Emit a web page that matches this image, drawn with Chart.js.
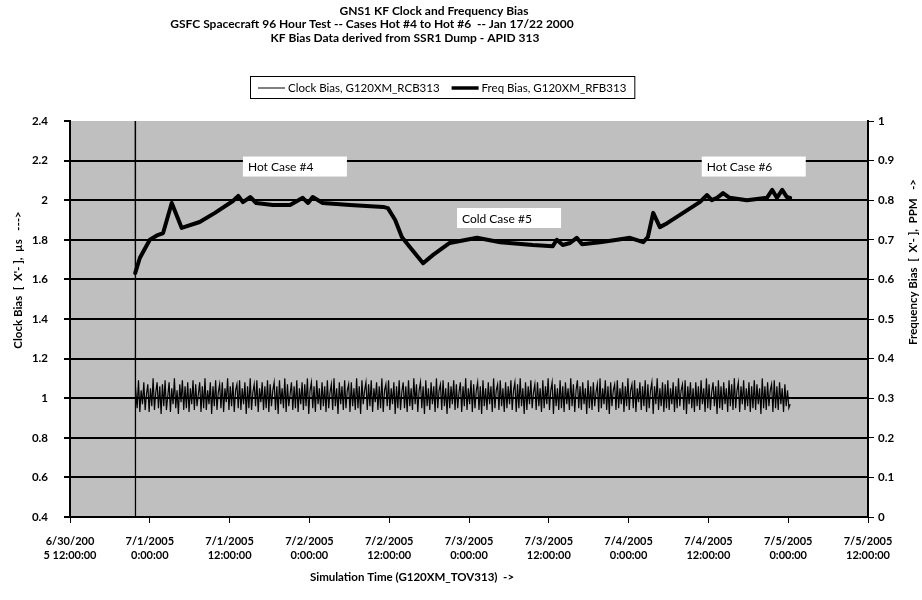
<!DOCTYPE html>
<html>
<head>
<meta charset="utf-8">
<title>GNS1 KF Clock and Frequency Bias</title>
<script src="https://cdn.jsdelivr.net/npm/chart.js@4.4.1/dist/chart.umd.min.js"></script>
<style>
	html, body { margin: 0; padding: 0; background: #fff; }
	#wrap { width: 922px; height: 600px; }
</style>
</head>
<body>
<div id="wrap"><canvas id="biasChart" width="922" height="600"></canvas></div>
<script>
"use strict";

// chart text
const titleLines = [
	"GNS1 KF Clock and Frequency Bias",
	"GSFC Spacecraft 96 Hour Test -- Cases Hot #4 to Hot #6  -- Jan 17/22 2000",
	"KF Bias Data derived from SSR1 Dump - APID 313",
];
const clockAxisTitle = "Clock Bias  [  X'- ],  µs   --->";
const freqAxisTitle = "Frequency Bias  [  X'- ],  PPM   ->";
const timeAxisTitle = "Simulation Time (G120XM_TOV313)  ->";

// x axis: hours after 6/30/2005 12:00, one label every 12 h
const xTickLabels = [
	["6/30/200", "5 12:00:00"],
	["7/1/2005", "0:00:00"],
	["7/1/2005", "12:00:00"],
	["7/2/2005", "0:00:00"],
	["7/2/2005", "12:00:00"],
	["7/3/2005", "0:00:00"],
	["7/3/2005", "12:00:00"],
	["7/4/2005", "0:00:00"],
	["7/4/2005", "12:00:00"],
	["7/5/2005", "0:00:00"],
	["7/5/2005", "12:00:00"],
];

// clock bias (us): initial jump, then samples every 0.2 h
const clockJumpTime = [9.8, 9.8];
const clockJumpBias = [2.6, 0.2];
const clockStart = 9.9;
const clockStep = 0.2;
const clockBias = [
	1.06, 0.95, 1.09, 0.93, 1.04, 0.97, 1.08, 0.94, 1.02, 1.07, 0.93, 1.05, 0.96, 1.10, 0.94, 1.03, 1.08, 0.95, 1.06, 0.92,
	1.07, 0.96, 1.09, 0.94, 1.01, 1.08, 0.93, 1.05, 0.97, 1.10, 0.95, 1.04, 0.92, 1.07, 0.98, 1.09, 0.94, 1.06, 0.95, 1.08,
	0.93, 1.05, 0.97, 1.09, 0.94, 1.07, 0.96, 1.02, 1.08, 0.93, 1.06, 0.95, 1.10, 0.94, 1.04, 0.97, 1.08, 0.92, 1.06, 0.96,
	1.09, 0.94, 1.03, 1.07, 0.95, 1.08, 0.93, 1.05, 0.98, 1.10, 0.94, 1.06, 0.96, 1.08, 0.93, 1.04, 1.07, 0.95, 1.09, 0.94,
	1.05, 0.97, 1.08, 0.92, 1.06, 0.95, 1.10, 0.94, 1.03, 1.07, 0.96, 1.09, 0.93, 1.05, 0.98, 1.08, 0.94, 1.06, 0.95, 1.09,
	0.93, 1.07, 0.96, 1.04, 1.08, 0.94, 1.06, 0.92, 1.09, 0.97, 1.05, 0.95, 1.10, 0.93, 1.07, 0.96, 1.02, 1.08, 0.94, 1.06,
	0.95, 1.09, 0.93, 1.05, 0.97, 1.08, 0.94, 1.07, 0.96, 1.10, 0.92, 1.04, 1.08, 0.95, 1.06, 0.93, 1.09, 0.97, 1.05, 0.94,
	1.08, 0.96, 1.06, 0.93, 1.09, 0.95, 1.03, 1.07, 0.94, 1.10, 0.96, 1.05, 0.92, 1.08, 0.97, 1.06, 0.94, 1.09, 0.95, 1.04,
	1.07, 0.93, 1.08, 0.96, 1.05, 0.94, 1.10, 0.95, 1.06, 0.92, 1.09, 0.97, 1.04, 1.08, 0.94, 1.07, 0.96, 1.09, 0.93, 1.05,
	0.98, 1.08, 0.94, 1.06, 0.95, 1.10, 0.93, 1.04, 1.07, 0.96, 1.09, 0.94, 1.05, 0.97, 1.08, 0.92, 1.06, 0.95, 1.09, 0.94,
	1.03, 1.08, 0.95, 1.06, 0.93, 1.09, 0.96, 1.05, 0.94, 1.10, 0.97, 1.07, 0.93, 1.04, 1.08, 0.95, 1.06, 0.92, 1.09, 0.96,
	1.05, 0.94, 1.08, 0.97, 1.06, 0.93, 1.10, 0.95, 1.04, 1.07, 0.94, 1.09, 0.96, 1.05, 0.92, 1.08, 0.95, 1.06, 0.97, 1.09,
	0.94, 1.07, 0.95, 1.03, 1.08, 0.93, 1.06, 0.96, 1.10, 0.94, 1.05, 0.97, 1.09, 0.93, 1.07, 0.95, 1.04, 1.08, 0.94, 1.06,
	0.92, 1.09, 0.96, 1.05, 0.94, 1.08, 0.97, 1.06, 0.93, 1.10, 0.95, 1.04, 1.07, 0.94, 1.09, 0.96, 1.05, 0.93, 1.08, 0.95,
	1.06, 0.97, 1.09, 0.94, 1.04, 1.08, 0.93, 1.07, 0.95, 1.10, 0.96, 1.05, 0.92, 1.08, 0.94, 1.06, 0.97, 1.09, 0.95, 1.03,
	1.07, 0.94, 1.08, 0.96, 1.05, 0.93, 1.09, 0.95, 1.06, 0.97, 1.10, 0.94, 1.04, 1.08, 0.92, 1.07, 0.96, 1.05, 0.94, 1.09,
	0.95, 1.06, 0.93, 1.08, 0.97, 1.05, 0.94, 1.10, 0.96, 1.07, 0.93, 1.04, 1.09, 0.95, 1.06, 0.94, 1.08, 0.97, 1.05, 0.92,
	1.09, 0.95, 1.06, 0.94, 1.08, 0.96, 1.03, 1.07, 0.93, 1.10, 0.95, 1.05, 0.97, 1.09, 0.94, 1.06, 0.92, 1.08, 0.96, 1.04,
	1.07, 0.94, 1.09, 0.95, 1.05, 0.97, 1.08, 0.93, 1.06, 0.96, 1.10, 0.94, 1.04, 1.07, 0.95, 1.09, 0.93, 1.05, 0.98, 1.08,
	0.94, 1.06, 0.96, 1.09, 0.93, 1.07, 0.95, 1.04, 1.08, 0.92, 1.06, 0.97, 1.10, 0.94, 1.05, 0.96, 1.08, 0.93, 1.07, 0.95,
	1.09, 0.94, 1.05, 0.97, 1.08, 0.93, 1.06, 0.95, 1.10, 0.96, 1.04, 1.07, 0.94, 1.09, 0.92, 1.06, 0.97, 1.08, 0.95, 1.05,
	0.93, 1.08, 0.96, 1.06, 0.94, 1.09, 0.97, 1.05, 0.93, 1.10, 0.95, 1.07, 0.94, 1.03, 1.08, 0.96, 1.06, 0.92, 1.09, 0.95,
	1.06, 0.94, 1.08, 0.97, 1.05, 0.93, 1.09, 0.96, 1.07, 0.94, 1.10, 0.95, 1.04, 1.08, 0.93, 1.06, 0.97, 1.09, 0.94, 1.05,
	0.96, 1.08, 0.93, 1.06, 0.95, 1.09, 0.94, 1.07, 0.97, 1.05, 0.92, 1.10, 0.95, 1.06, 0.94, 1.08, 0.96, 1.04, 1.07, 0.93,
	1.09, 0.95, 1.06, 0.94, 1.08, 0.97, 1.05, 0.93, 1.07, 0.96, 1.04, 0.95, 0.97,
];

// frequency bias (PPM)
const freqTime = [
	9.8, 10.5, 12.0, 13.2, 14.0, 15.3, 16.8, 19.5, 21.8, 24.5,
	25.3, 26.0, 27.1, 28.0, 30.5, 33.1, 35.0, 35.8, 36.5, 38.0,
	42.1, 47.1, 47.8, 48.9, 49.9, 51.1, 53.1, 54.6, 57.1, 61.2,
	64.7, 69.6, 72.6, 73.2, 74.1, 75.2, 76.2, 77.0, 79.7, 82.3,
	84.2, 86.2, 86.9, 87.7, 88.7, 89.8, 94.7, 95.8, 96.5, 97.3,
	98.2, 99.2, 101.8, 104.8, 105.6, 106.3, 107.1, 107.8, 108.3,
];
const freqBias = [
	0.616, 0.654, 0.700, 0.712, 0.717, 0.793, 0.730, 0.745, 0.768, 0.798,
	0.811, 0.795, 0.808, 0.793, 0.788, 0.788, 0.806, 0.793, 0.808, 0.793,
	0.788, 0.783, 0.780, 0.750, 0.707, 0.682, 0.641, 0.662, 0.692, 0.705,
	0.694, 0.687, 0.684, 0.700, 0.687, 0.692, 0.705, 0.689, 0.694, 0.700,
	0.705, 0.694, 0.707, 0.768, 0.732, 0.742, 0.795, 0.813, 0.800, 0.806,
	0.818, 0.806, 0.800, 0.806, 0.826, 0.806, 0.826, 0.808, 0.806,
];

// case labels, anchored at (hours, clock bias)
const caseLabels = ["Hot Case #4", "Cold Case #5", "Hot Case #6"];
const caseTime = [26.0, 58.2, 95.0];
const caseBias = [2.17, 1.91, 2.17];

const titleFont = "bold 12px Lato";
const axisTitleFont = "bold 11.5px Lato";
const legendFont = "11.5px Lato";
const caseFont = "12px Lato";
const tickFont = { family: "Lato", size: 11.5, weight: "bold" };

const clockPoints = [];
for (let i = 0; i < clockJumpTime.length; i++) {
	clockPoints.push({ x: clockJumpTime[i], y: clockJumpBias[i] });
}
for (let i = 0; i < clockBias.length; i++) {
	clockPoints.push({ x: clockStart + clockStep * i, y: clockBias[i] });
}

const freqPoints = [];
for (let i = 0; i < freqTime.length; i++) {
	freqPoints.push({ x: freqTime[i], y: freqBias[i] });
}

const shortNumber = (value) => String(Math.round(value * 10) / 10);

const plotBackground = {
	id: "plotBackground",
	beforeDraw: (chart) => {
		const { ctx, chartArea } = chart;
		ctx.save();
		ctx.fillStyle = "#bfbfbf";
		ctx.fillRect(chartArea.left, chartArea.top, chartArea.width, chartArea.height);
		ctx.restore();
	},
};

const caseBoxes = {
	id: "caseBoxes",
	afterDatasetsDraw: (chart) => {
		const ctx = chart.ctx;
		const xScale = chart.scales.x;
		const yScale = chart.scales.yClock;
		ctx.save();
		ctx.font = caseFont;
		ctx.textBaseline = "middle";
		for (let i = 0; i < caseLabels.length; i++) {
			const left = xScale.getPixelForValue(caseTime[i]);
			const mid = yScale.getPixelForValue(caseBias[i]);
			ctx.fillStyle = "#fff";
			ctx.fillRect(left, mid - 10, 104, 20);
			ctx.fillStyle = "#000";
			ctx.fillText(caseLabels[i], left + 5, mid + 1);
		}
		ctx.restore();
	},
};

const chartText = {
	id: "chartText",
	afterDraw: (chart) => {
		const ctx = chart.ctx;
		ctx.save();
		ctx.fillStyle = "#000";
		ctx.textBaseline = "middle";

		// title
		ctx.font = titleFont;
		ctx.textAlign = "center";
		const titleX = [434, 372, 405];
		for (let i = 0; i < titleLines.length; i++) {
			ctx.fillText(titleLines[i], titleX[i], 11 + i * 13.5);
		}

		// legend, boxed
		const sets = chart.data.datasets;
		ctx.font = legendFont;
		ctx.textAlign = "left";
		let legendWidth = 0;
		for (let i = 0; i < sets.length; i++) {
			legendWidth += 30 + ctx.measureText(sets[i].label).width + (i ? 0 : 12);
		}
		const boxLeft = 250;
		const boxWidth = Math.max(342, legendWidth + 16);
		ctx.strokeStyle = "#000";
		ctx.lineWidth = 1;
		ctx.strokeRect(boxLeft + 0.5, 76.5, boxWidth, 22);
		let lx = boxLeft + (boxWidth - legendWidth) / 2;
		const ly = 88;
		for (let i = 0; i < sets.length; i++) {
			ctx.lineWidth = sets[i].borderWidth > 2 ? 3.5 : 1;
			ctx.beginPath();
			ctx.moveTo(lx, ly);
			ctx.lineTo(lx + 27, ly);
			ctx.stroke();
			ctx.fillText(sets[i].label, lx + 30, ly);
			lx += 30 + ctx.measureText(sets[i].label).width + 12;
		}

		// axis titles
		ctx.font = axisTitleFont;
		ctx.textAlign = "center";
		ctx.fillText(timeAxisTitle, 412, 577);

		ctx.save();
		ctx.translate(18, 280);
		ctx.rotate(-Math.PI / 2);
		ctx.fillText(clockAxisTitle, 0, 0);
		ctx.restore();

		ctx.save();
		ctx.translate(913, 262);
		ctx.rotate(-Math.PI / 2);
		ctx.fillText(freqAxisTitle, 0, 0);
		ctx.restore();

		ctx.restore();
	},
};

const ctx = document.getElementById("biasChart").getContext("2d");
const biasChart = new Chart(ctx, {
	type: "line",
	data: {
		datasets: [
			{
				label: "Clock Bias, G120XM_RCB313",
				data: clockPoints,
				yAxisID: "yClock",
				borderColor: "#000",
				borderWidth: 1.2,
				pointRadius: 0,
				tension: 0,
			},
			{
				label: "Freq Bias, G120XM_RFB313",
				data: freqPoints,
				yAxisID: "yFreq",
				borderColor: "#000",
				borderWidth: 4,
				borderJoinStyle: "round",
				borderCapStyle: "round",
				pointRadius: 0,
				tension: 0,
			},
		],
	},
	options: {
		responsive: false,
		animation: false,
		layout: { padding: { top: 121, left: 0, right: 0, bottom: 0 } },
		plugins: {
			legend: { display: false },
			title: { display: false },
			tooltip: { enabled: false },
		},
		scales: {
			x: {
				type: "linear",
				position: "bottom",
				min: 0,
				max: 120,
				afterFit: (scale) => {
					scale.height = 83;
				},
				ticks: {
					stepSize: 12,
					autoSkip: false,
					maxRotation: 0,
					padding: 12,
					color: "#000",
					font: { family: "Lato", size: 11, weight: "bold", lineHeight: 1.25 },
					callback: (value) => xTickLabels[Math.round(value / 12)],
				},
				grid: {
					drawOnChartArea: false,
					tickLength: 6,
					tickColor: "#000",
				},
				border: { color: "#000", width: 2 },
			},
			yClock: {
				type: "linear",
				position: "left",
				min: 0.4,
				max: 2.4,
				afterFit: (scale) => {
					scale.width = 70;
				},
				ticks: {
					stepSize: 0.2,
					padding: 16,
					color: "#000",
					font: tickFont,
					callback: shortNumber,
				},
				grid: {
					color: (c) => (c.tick && c.tick.value > 2.39 ? "rgba(0,0,0,0)" : "#000"),
					lineWidth: 2,
					tickLength: 6,
					tickColor: "#000",
				},
				border: { color: "#000", width: 2 },
			},
			yFreq: {
				type: "linear",
				position: "right",
				min: 0,
				max: 1,
				afterFit: (scale) => {
					scale.width = 54;
				},
				ticks: {
					stepSize: 0.1,
					padding: 4,
					color: "#000",
					font: tickFont,
					callback: shortNumber,
				},
				grid: {
					drawOnChartArea: false,
					tickLength: 6,
					tickColor: "#000",
				},
				border: { color: "#000", width: 2 },
			},
		},
	},
	plugins: [plotBackground, caseBoxes, chartText],
});
</script>
</body>
</html>
